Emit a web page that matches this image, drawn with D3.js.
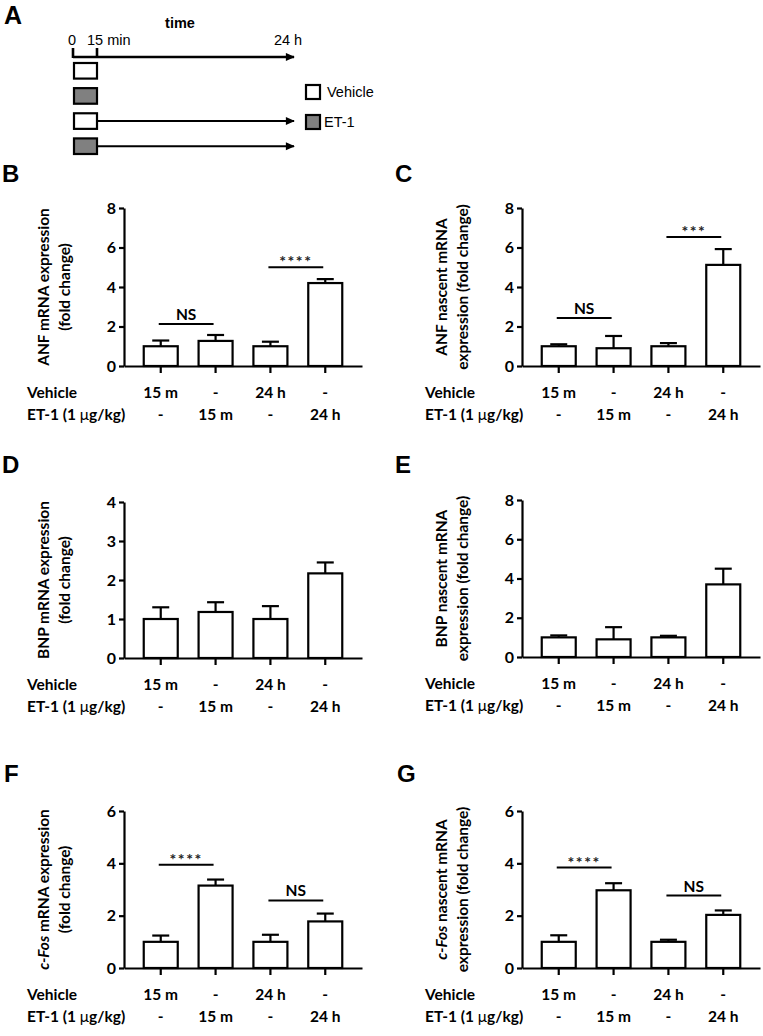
<!DOCTYPE html>
<html><head><meta charset="utf-8">
<script src="https://cdn.jsdelivr.net/npm/d3@7"></script>
<style>body{margin:0;background:#fff} svg{display:block}</style>
</head><body>
<svg id="c" width="763" height="1036"></svg>
<script>
// ---------------- data ----------------
const groups = ["veh15", "et15", "veh24", "et24"];
const vehicleRow = ["15 m", "-", "24 h", "-"];
const et1Row = ["-", "15 m", "-", "24 h"];

const anfMean = [1.0, 1.27, 1.0, 4.2];
const anfErr = [0.29, 0.3, 0.23, 0.2];
const anfNascentMean = [1.0, 0.9, 1.0, 5.12];
const anfNascentErr = [0.1, 0.62, 0.16, 0.8];
const bnpMean = [1.0, 1.18, 1.0, 2.17];
const bnpErr = [0.3, 0.25, 0.33, 0.28];
const bnpNascentMean = [1.0, 0.9, 1.0, 3.7];
const bnpNascentErr = [0.1, 0.62, 0.08, 0.8];
const cfosMean = [1.0, 3.15, 1.0, 1.78];
const cfosErr = [0.24, 0.23, 0.27, 0.3];
const cfosNascentMean = [1.0, 2.97, 1.0, 2.03];
const cfosNascentErr = [0.25, 0.27, 0.08, 0.17];

const ticks8 = [0, 2, 4, 6, 8];
const ticks4 = [0, 1, 2, 3, 4];
const ticks6 = [0, 2, 4, 6];

const sigB = [{a: 0, b: 1, y: 2.13, label: "NS"}, {a: 2, b: 3, y: 5.0, label: "****"}];
const sigC = [{a: 0, b: 1, y: 2.43, label: "NS"}, {a: 2, b: 3, y: 6.53, label: "***"}];
const sigF = [{a: 0, b: 1, y: 3.95, label: "****"}, {a: 2, b: 3, y: 2.58, label: "NS"}];
const sigG = [{a: 0, b: 1, y: 3.84, label: "****"}, {a: 2, b: 3, y: 2.77, label: "NS"}];

// schematic (panel A)
const timeStops = [{label: "0", t: 0}, {label: "15 min", t: 1}, {label: "24 h", t: 9}];
const protocolRows = [
  {treat: "Vehicle", end: 1}, {treat: "ET-1", end: 1},
  {treat: "Vehicle", end: 9}, {treat: "ET-1", end: 9}
];
const legendItems = ["Vehicle", "ET-1"];
const treatColor = {"Vehicle": "#ffffff", "ET-1": "#808080"};

// ---------------- drawing ----------------
const svg = d3.select("#c");
const FONT = "Lato, 'Open Sans', sans-serif";
const ARIAL = "'Liberation Sans', Arial, sans-serif";
const FS = 15.5;

const defs = svg.append("defs");
defs.append("marker")
  .attr("id", "arr").attr("viewBox", "0 0 10 10").attr("refX", 9).attr("refY", 5)
  .attr("markerWidth", 12).attr("markerHeight", 9).attr("markerUnits", "userSpaceOnUse")
  .attr("orient", "auto")
  .append("path").attr("d", "M0,0.5 L10,5 L0,9.5 Z").attr("fill", "#000");

// Panel A
(function () {
  const g = svg.append("g");
  g.append("text").attr("x", 4).attr("y", 24).text("A")
    .attr("font-family", ARIAL).attr("font-weight", "bold").attr("font-size", 25);
  const tx = d3.scaleLinear().domain([0, 9]).range([73, 289]);
  g.append("text").attr("x", 180).attr("y", 28).attr("text-anchor", "middle")
    .attr("font-family", ARIAL).attr("font-weight", "bold").attr("font-size", 14.5).text("time");
  g.selectAll(".tl").data(timeStops).join("text")
    .attr("x", d => d.t === 1 ? tx(d.t) - 10 : tx(d.t) - 1)
    .attr("y", 45)
    .attr("text-anchor", d => d.t === 1 ? "start" : "middle")
    .attr("font-family", ARIAL).attr("font-size", 14.5).text(d => d.label);
  g.append("line").attr("x1", tx(0)).attr("x2", tx(9) + 5).attr("y1", 57).attr("y2", 57)
    .attr("stroke", "#000").attr("stroke-width", 2.6).attr("marker-end", "url(#arr)");
  g.selectAll(".tk").data(timeStops.filter(d => d.t < 9)).join("line")
    .attr("x1", d => tx(d.t)).attr("x2", d => tx(d.t)).attr("y1", 48).attr("y2", 58)
    .attr("stroke", "#000").attr("stroke-width", 2.6);
  const ry = d3.scaleBand().domain(d3.range(protocolRows.length)).range([63, 154]).paddingInner(0.38);
  protocolRows.forEach((r, i) => {
    if (r.end > 1) {
      g.append("line").attr("x1", tx(1)).attr("x2", tx(r.end) + 5)
        .attr("y1", ry(i) + ry.bandwidth() / 2).attr("y2", ry(i) + ry.bandwidth() / 2)
        .attr("stroke", "#000").attr("stroke-width", 2).attr("marker-end", "url(#arr)");
    }
    g.append("rect").attr("x", tx(0) + 1).attr("y", ry(i)).attr("width", tx(1) - tx(0) - 1)
      .attr("height", ry.bandwidth()).attr("fill", treatColor[r.treat])
      .attr("stroke", "#000").attr("stroke-width", 2.2);
  });
  legendItems.forEach((t, i) => {
    const y = 85 + i * 30;
    g.append("rect").attr("x", 306).attr("y", y).attr("width", 14).attr("height", 14)
      .attr("fill", treatColor[t]).attr("stroke", "#000").attr("stroke-width", 2.2);
    g.append("text").attr("x", t === "ET-1" ? 324 : 327).attr("y", y + 12)
      .attr("font-family", ARIAL).attr("font-size", 14.5).text(t);
  });
})();

function drawPanel(cfg) {
  const g = svg.append("g");
  g.append("text").attr("x", cfg.letterX).attr("y", cfg.letterY).text(cfg.letter)
    .attr("font-family", ARIAL).attr("font-weight", "bold").attr("font-size", 24);

  const x = d3.scaleBand().domain(groups).range([cfg.x0, cfg.x1])
    .paddingInner(0.38).paddingOuter(0.36);
  const y = d3.scaleLinear().domain([0, cfg.max]).range([cfg.yBot, cfg.yTop]);
  const bw = x.bandwidth();
  const cx = i => x(groups[i]) + bw / 2;

  // y axis
  const ya = g.append("g").attr("transform", `translate(${cfg.x0},0)`)
    .call(d3.axisLeft(y).tickValues(cfg.ticks).tickSize(5).tickPadding(3).tickSizeOuter(0).tickFormat(d3.format("d")));
  ya.select(".domain").attr("stroke-width", 2.2);
  ya.selectAll(".tick line").attr("stroke-width", 2.2);
  ya.selectAll(".tick text").attr("font-family", FONT).attr("font-weight", "bold")
    .attr("font-size", 16).attr("fill", "#000");

  // x axis (no labels)
  const xa = g.append("g").attr("transform", `translate(0,${cfg.yBot})`)
    .call(d3.axisBottom(x).tickSize(7).tickSizeOuter(0).tickFormat(""));
  xa.select(".domain").attr("stroke-width", 2.2);
  xa.selectAll(".tick line").attr("stroke-width", 2.2);

  // error bars
  const data = groups.map((k, i) => ({k, i, m: cfg.mean[i], e: cfg.err[i]}));
  g.selectAll(".eb").data(data).join("line")
    .attr("x1", d => cx(d.i)).attr("x2", d => cx(d.i))
    .attr("y1", d => y(d.m)).attr("y2", d => y(d.m + d.e))
    .attr("stroke", "#000").attr("stroke-width", 2.2);
  g.selectAll(".cap").data(data).join("line")
    .attr("x1", d => cx(d.i) - bw / 4).attr("x2", d => cx(d.i) + bw / 4)
    .attr("y1", d => y(d.m + d.e)).attr("y2", d => y(d.m + d.e))
    .attr("stroke", "#000").attr("stroke-width", 2.2);
  // bars
  g.selectAll(".bar").data(data).join("rect")
    .attr("x", d => x(d.k)).attr("width", bw)
    .attr("y", d => y(d.m)).attr("height", d => cfg.yBot - y(d.m))
    .attr("fill", "#fff").attr("stroke", "#000").attr("stroke-width", 2.2);

  // significance
  (cfg.sig || []).forEach(s => {
    g.append("line").attr("x1", cx(s.a) - 2).attr("x2", cx(s.b) - 2)
      .attr("y1", y(s.y)).attr("y2", y(s.y)).attr("stroke", "#000").attr("stroke-width", 2);
    const isStar = s.label.startsWith("*");
    g.append("text").attr("x", (cx(s.a) + cx(s.b)) / 2 - 2)
      .attr("y", y(s.y) + (isStar ? 0 : -4))
      .attr("text-anchor", "middle").attr("font-family", FONT).attr("font-weight", "bold")
      .attr("font-size", isStar ? 16 : FS).attr("letter-spacing", isStar ? 1.5 : 0)
      .attr("fill", isStar ? "#222" : "#000")
      .text(s.label);
  });

  // treatment table
  const rows = [{name: "Vehicle", vals: vehicleRow, dy: 32}, {name: "ET-1", vals: et1Row, dy: 54}];
  rows.forEach(r => {
    const t = g.append("text").attr("x", cfg.tableX).attr("y", cfg.yBot + r.dy)
      .attr("font-family", FONT).attr("font-weight", "bold").attr("font-size", FS);
    if (r.name === "ET-1") {
      t.append("tspan").text("ET-1 (1 ");
      t.append("tspan").attr("font-weight", "normal").text("μ");
      t.append("tspan").text("g/kg)");
    } else t.text(r.name);
    g.selectAll(null).data(r.vals).join("text")
      .attr("x", (d, i) => cx(i)).attr("y", cfg.yBot + r.dy)
      .attr("text-anchor", "middle").attr("font-family", FONT).attr("font-weight", "bold")
      .attr("font-size", FS).text(d => d);
  });

  // y label
  const midY = (cfg.yTop + cfg.yBot) / 2;
  cfg.ylab.forEach((parts, li) => {
    const lx = cfg.x0 + (li === 0 ? -81 : -60);
    const t = g.append("text").attr("transform", `translate(${lx},${midY}) rotate(-90)`)
      .attr("text-anchor", "middle").attr("dominant-baseline", "central")
      .attr("font-family", FONT).attr("font-weight", "bold").attr("font-size", FS);
    parts.forEach(p => {
      t.append("tspan").attr("font-style", p.i ? "italic" : "normal").text(p.t);
    });
  });
}

drawPanel({letter: "B", letterX: 2, letterY: 182, x0: 124, x1: 362, yTop: 208, yBot: 366, max: 8,
  ticks: ticks8, mean: anfMean, err: anfErr, sig: sigB, tableX: 27,
  ylab: [[{t: "ANF mRNA expression"}], [{t: "(fold change)"}]]});
drawPanel({letter: "C", letterX: 395, letterY: 182, x0: 522, x1: 760, yTop: 208, yBot: 366, max: 8,
  ticks: ticks8, mean: anfNascentMean, err: anfNascentErr, sig: sigC, tableX: 425,
  ylab: [[{t: "ANF nascent mRNA"}], [{t: "expression (fold change)"}]]});
drawPanel({letter: "D", letterX: 2, letterY: 473, x0: 124, x1: 362, yTop: 502, yBot: 658, max: 4,
  ticks: ticks4, mean: bnpMean, err: bnpErr, sig: [], tableX: 27,
  ylab: [[{t: "BNP mRNA expression"}], [{t: "(fold change)"}]]});
drawPanel({letter: "E", letterX: 395, letterY: 473, x0: 522, x1: 760, yTop: 500, yBot: 657, max: 8,
  ticks: ticks8, mean: bnpNascentMean, err: bnpNascentErr, sig: [], tableX: 425,
  ylab: [[{t: "BNP nascent mRNA"}], [{t: "expression (fold change)"}]]});
drawPanel({letter: "F", letterX: 4, letterY: 782, x0: 124, x1: 362, yTop: 811, yBot: 968, max: 6,
  ticks: ticks6, mean: cfosMean, err: cfosErr, sig: sigF, tableX: 27,
  ylab: [[{t: "c-Fos", i: true}, {t: " mRNA expression"}], [{t: "(fold change)"}]]});
drawPanel({letter: "G", letterX: 397, letterY: 782, x0: 522, x1: 760, yTop: 811, yBot: 968, max: 6,
  ticks: ticks6, mean: cfosNascentMean, err: cfosNascentErr, sig: sigG, tableX: 425,
  ylab: [[{t: "c-Fos", i: true}, {t: " nascent mRNA"}], [{t: "expression (fold change)"}]]});
</script>
</body></html>
